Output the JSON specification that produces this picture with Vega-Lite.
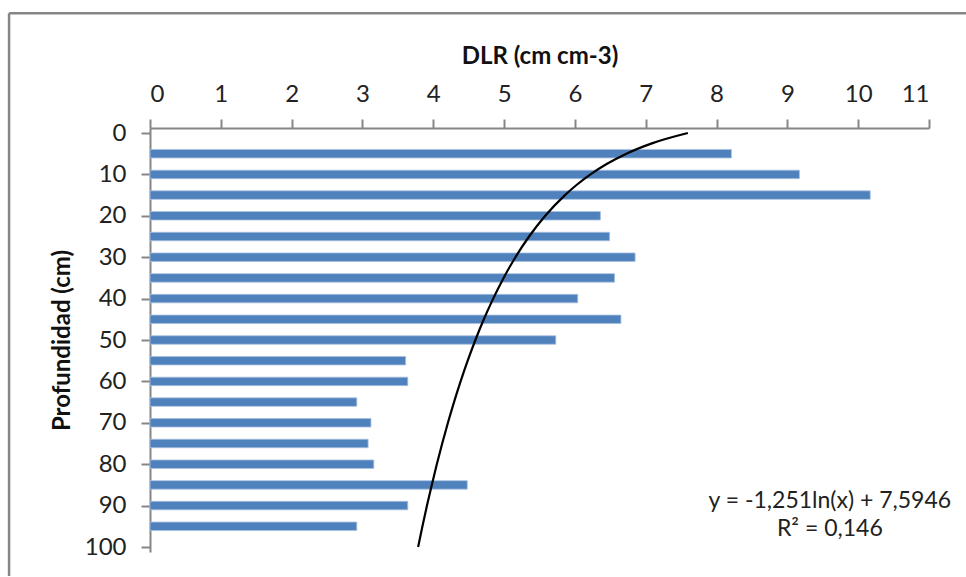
{
  "$schema": "https://vega.github.io/schema/vega-lite/v6.json",
  "width": 779,
  "height": 424,
  "autosize": "none",
  "padding": {"left": 150, "top": 128, "right": 37, "bottom": 25},
  "background": "white",
  "config": {
    "view": {"stroke": null},
    "font": "Lato",
    "axis": {"grid": false, "domainColor": "#868686", "tickColor": "#868686", "domainWidth": 2, "tickWidth": 2, "tickSize": 9, "labelColor": "#222222", "titleColor": "#111111", "labelFont": "Lato", "titleFont": "Lato", "labelFontSize": 24, "titleFontSize": 24, "titleFontWeight": "bold"}
  },
  "datasets": {
    "bars": [
      {"depth": 5, "dlr": 8.21},
      {"depth": 10, "dlr": 9.17},
      {"depth": 15, "dlr": 10.17},
      {"depth": 20, "dlr": 6.36},
      {"depth": 25, "dlr": 6.49},
      {"depth": 30, "dlr": 6.85},
      {"depth": 35, "dlr": 6.56},
      {"depth": 40, "dlr": 6.04},
      {"depth": 45, "dlr": 6.65},
      {"depth": 50, "dlr": 5.73},
      {"depth": 55, "dlr": 3.61},
      {"depth": 60, "dlr": 3.64},
      {"depth": 65, "dlr": 2.92},
      {"depth": 70, "dlr": 3.12},
      {"depth": 75, "dlr": 3.08},
      {"depth": 80, "dlr": 3.16},
      {"depth": 85, "dlr": 4.48},
      {"depth": 90, "dlr": 3.64},
      {"depth": 95, "dlr": 2.92}
    ],
    "curve": [
      {"depth": 0, "dlr": 7.595},
      {"depth": 2.5, "dlr": 7.087},
      {"depth": 5, "dlr": 6.727},
      {"depth": 7.5, "dlr": 6.448},
      {"depth": 10, "dlr": 6.22},
      {"depth": 12.5, "dlr": 6.027},
      {"depth": 15, "dlr": 5.86},
      {"depth": 20, "dlr": 5.581},
      {"depth": 25, "dlr": 5.353},
      {"depth": 30, "dlr": 5.16},
      {"depth": 35, "dlr": 4.993},
      {"depth": 40, "dlr": 4.846},
      {"depth": 45, "dlr": 4.714},
      {"depth": 50, "dlr": 4.595},
      {"depth": 55, "dlr": 4.486},
      {"depth": 60, "dlr": 4.386},
      {"depth": 65, "dlr": 4.293},
      {"depth": 70, "dlr": 4.207},
      {"depth": 75, "dlr": 4.126},
      {"depth": 80, "dlr": 4.05},
      {"depth": 85, "dlr": 3.979},
      {"depth": 90, "dlr": 3.911},
      {"depth": 95, "dlr": 3.847},
      {"depth": 100, "dlr": 3.786}
    ],
    "notes": [
      {"line": "y = -1,251ln(x) + 7,5946", "dlr": 9.6, "depth": 89.0},
      {"line": "R² = 0,146", "dlr": 9.6, "depth": 95.7}
    ]
  },
  "layer": [
    {
      "data": {"name": "bars"},
      "mark": {"type": "bar", "orient": "horizontal", "color": "#4F81BD", "stroke": "#A9C1E0", "strokeWidth": 0.8, "size": 8.5},
      "encoding": {
        "x": {"field": "dlr", "type": "quantitative", "scale": {"domain": [0, 11], "nice": false}, "axis": {"orient": "top", "values": [0,1,2,3,4,5,6,7,8,9,10,11], "format": "d", "title": "DLR (cm cm-3)", "labelPadding": 13, "titlePadding": 14}},
        "y": {"field": "depth", "type": "quantitative", "scale": {"domain": [0, 100], "nice": false, "reverse": true}, "axis": {"values": [0,5,10,15,20,25,30,35,40,45,50,55,60,65,70,75,80,85,90,95,100], "labelExpr": "datum.value % 10 === 0 ? datum.label : ''", "title": "Profundidad (cm)", "labelPadding": 15, "titlePadding": 10}}
      }
    },
    {
      "data": {"name": "curve"},
      "mark": {"type": "line", "color": "black", "strokeWidth": 2.2, "interpolate": "monotone"},
      "encoding": {
        "x": {"field": "dlr", "type": "quantitative", "scale": {"domain": [0, 11], "nice": false}},
        "y": {"field": "depth", "type": "quantitative", "scale": {"domain": [0, 100], "nice": false, "reverse": true}},
        "order": {"field": "depth", "type": "quantitative"}
      }
    },
    {
      "data": {"name": "notes"},
      "mark": {"type": "text", "fontSize": 23, "color": "#222222", "align": "center", "baseline": "middle", "clip": false},
      "encoding": {
        "x": {"field": "dlr", "type": "quantitative", "scale": {"domain": [0, 11], "nice": false}},
        "y": {"field": "depth", "type": "quantitative", "scale": {"domain": [0, 100], "nice": false, "reverse": true}},
        "text": {"field": "line"}
      }
    },
    {
      "data": {"values": [{}]},
      "mark": {"type": "rule", "color": "#868686", "strokeWidth": 2.5, "clip": false},
      "encoding": {
        "x": {"datum": -1.99, "type": "quantitative"},
        "x2": {"datum": 11.6},
        "y": {"datum": -28.9, "type": "quantitative"}
      }
    },
    {
      "data": {"values": [{}]},
      "mark": {"type": "rule", "color": "#868686", "strokeWidth": 2.5, "clip": false},
      "encoding": {
        "x": {"datum": -1.99, "type": "quantitative"},
        "y": {"datum": -28.9, "type": "quantitative"},
        "y2": {"datum": 107}
      }
    }
  ]
}
